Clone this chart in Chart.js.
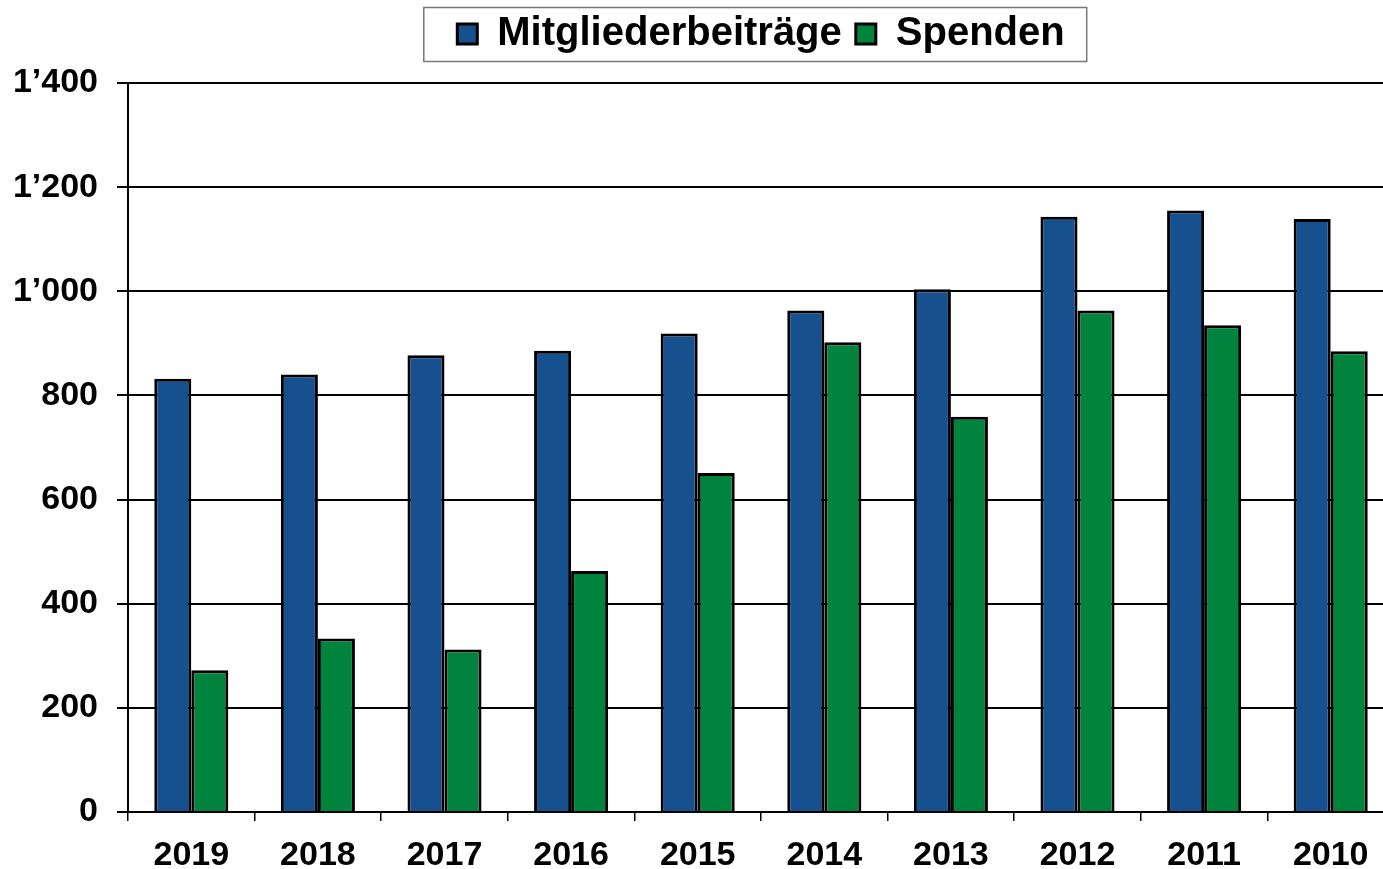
<!DOCTYPE html>
<html>
<head>
<meta charset="utf-8">
<script src="https://cdn.jsdelivr.net/npm/chart.js@4"></script>
<style>
  html, body { margin: 0; padding: 0; background: #fff; overflow: hidden; }
  #wrap { width: 1394px; height: 869px; }
</style>
</head>
<body>
<div id="wrap"><canvas id="chart" width="1394" height="869"></canvas></div>
<script>
var years = ["2019", "2018", "2017", "2016", "2015", "2014", "2013", "2012", "2011", "2010"];
var mitgliederbeitraege = [832, 840, 877, 886, 919, 963, 1004, 1143, 1155, 1139];
var spenden = [272, 333, 312, 463, 651, 902, 759, 963, 935, 885];
var yTicks = [0, 200, 400, 600, 800, 1000, 1200, 1400];

var FONT = "'Liberation Sans', Arial, sans-serif";
Chart.defaults.color = '#000';
Chart.defaults.font.family = FONT;

// extra room between legend and plot area
var legendGap = {
    id: 'legendGap',
    beforeInit: function (chart) {
        var fit = chart.legend.fit;
        chart.legend.fit = function () {
            fit.bind(chart.legend)();
            this.height += 19;
        };
    }
};

// thin frame around the legend items
var legendFrame = {
    id: 'legendFrame',
    afterDraw: function (chart) {
        var boxes = chart.legend.legendHitBoxes;
        if (!boxes || !boxes.length) return;
        var first = boxes[0], last = boxes[boxes.length - 1];
        var ctx = chart.ctx;
        ctx.save();
        ctx.strokeStyle = '#777';
        ctx.lineWidth = 1.5;
        var x0 = first.left - 33.5, x1 = last.left + last.width + 22;
        ctx.strokeRect(x0, 7.5, x1 - x0, 54);
        ctx.restore();
    }
};

var chart = document.getElementById("chart").getContext("2d");

var myBarChart = new Chart(chart, {
    type: 'bar',
    data: {
        labels: years,
        datasets: [{
            label: 'Mitgliederbeiträge',
            data: mitgliederbeitraege,
            backgroundColor: '#17508F',
            borderColor: '#000',
            borderWidth: 3
        }, {
            label: 'Spenden',
            data: spenden,
            backgroundColor: '#00843D',
            borderColor: '#000',
            borderWidth: 3
        }]
    },
    options: {
        responsive: false,
        animation: false,
        layout: { padding: 0 },
        datasets: {
            bar: { categoryPercentage: 0.585, barPercentage: 1.0 }
        },
        plugins: {
            tooltip: { enabled: false },
            legend: {
                position: 'top',
                fullSize: false,
                labels: {
                    boxWidth: 20,
                    boxHeight: 20,
                    padding: 14,
                    font: { size: 40, weight: 'bold', family: FONT }
                }
            }
        },
        scales: {
            x: {
                afterFit: function (scale) { scale.height = 57; },
                grid: {
                    drawOnChartArea: false,
                    drawTicks: true,
                    tickLength: 9,
                    color: '#000',
                    lineWidth: 1.5
                },
                border: { display: true, color: '#000', width: 2 },
                ticks: {
                    padding: 14,
                    font: { size: 34, weight: 'bold', family: FONT }
                }
            },
            y: {
                min: 0,
                max: 1400,
                afterFit: function (scale) { scale.width = 128; },
                afterBuildTicks: function (scale) {
                    scale.ticks = yTicks.map(function (v) { return { value: v }; });
                },
                grid: {
                    color: '#000',
                    lineWidth: 2,
                    drawTicks: true,
                    tickLength: 11
                },
                border: { display: true, color: '#000', width: 2 },
                ticks: {
                    padding: 19,
                    font: { size: 34, weight: 'bold', family: FONT },
                    callback: function (value) {
                        return String(value).replace(/\B(?=(\d{3})+(?!\d))/g, '\u2019');
                    }
                }
            }
        }
    },
    plugins: [legendGap, legendFrame]
});
</script>
</body>
</html>
